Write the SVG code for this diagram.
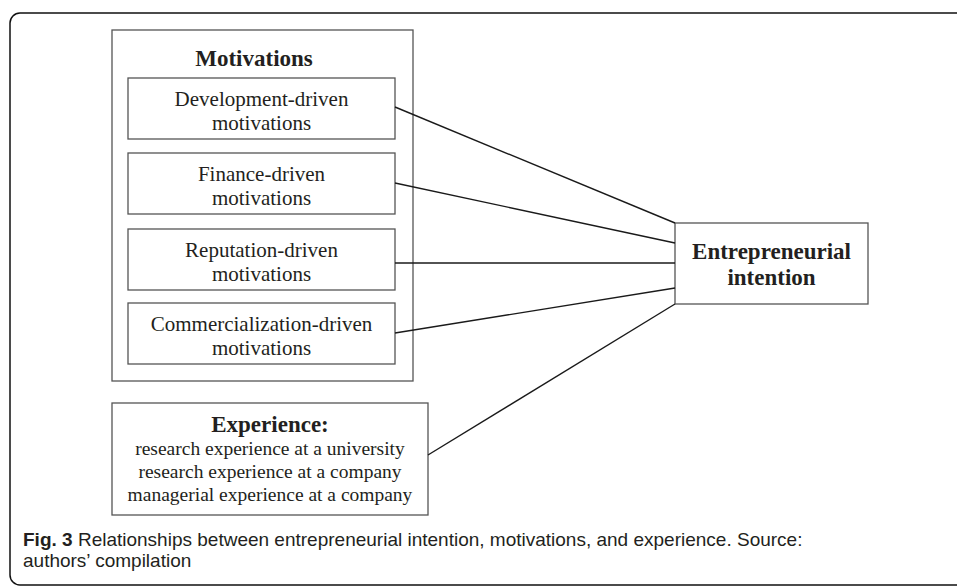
<svg xmlns="http://www.w3.org/2000/svg" width="957" height="586" viewBox="0 0 957 586">
<style>
.box{fill:#fff;stroke:#555;stroke-width:1.3}
.t{font-family:"Liberation Serif","Times New Roman",serif;fill:#231f20;text-anchor:middle}
.sub{font-size:21px}
.b{font-weight:bold;font-size:23px}
.exp{font-size:19.5px}
.cap{font-family:"Liberation Sans",Arial,sans-serif;font-size:19px;fill:#231f20}
.conn line{stroke:#1a1a1a;stroke-width:1.4}
</style>
<rect width="957" height="586" fill="#fff"/>
<rect x="10" y="13" width="1000" height="572" rx="10" fill="none" stroke="#111" stroke-width="1.5"/>
<g id="motivations">
<rect class="box" x="112" y="30" width="301" height="351"/>
<text class="t b" x="254" y="66">Motivations</text>
</g>
<g id="development">
<rect class="box" x="128" y="78" width="267" height="61"/>
<text class="t sub" x="261.5" y="106">Development-driven</text>
<text class="t sub" x="261.5" y="130">motivations</text>
</g>
<g id="finance">
<rect class="box" x="128" y="153" width="267" height="61"/>
<text class="t sub" x="261.5" y="181">Finance-driven</text>
<text class="t sub" x="261.5" y="205">motivations</text>
</g>
<g id="reputation">
<rect class="box" x="128" y="229" width="267" height="61"/>
<text class="t sub" x="261.5" y="257">Reputation-driven</text>
<text class="t sub" x="261.5" y="281">motivations</text>
</g>
<g id="commercialization">
<rect class="box" x="128" y="303" width="267" height="61"/>
<text class="t sub" x="261.5" y="331">Commercialization-driven</text>
<text class="t sub" x="261.5" y="355">motivations</text>
</g>
<g id="experience">
<rect class="box" x="112" y="403" width="316" height="112"/>
<text class="t b" x="270" y="432">Experience:</text>
<text class="t exp" x="270" y="455">research experience at a university</text>
<text class="t exp" x="270" y="478">research experience at a company</text>
<text class="t exp" x="270" y="501">managerial experience at a company</text>
</g>
<g id="intention">
<rect class="box" x="675" y="223" width="193" height="81"/>
<text class="t b" x="771.5" y="259">Entrepreneurial</text>
<text class="t b" x="771.5" y="285">intention</text>
</g>
<g class="conn" id="connectors">
<line x1="395" y1="107" x2="675" y2="223"/>
<line x1="395" y1="183" x2="675" y2="243"/>
<line x1="395" y1="263" x2="675" y2="263"/>
<line x1="395" y1="333" x2="675" y2="288"/>
<line x1="428" y1="455" x2="675" y2="304"/>
</g>
<g id="caption">
<text class="cap" x="23" y="546"><tspan font-weight="bold">Fig. 3</tspan> Relationships between entrepreneurial intention, motivations, and experience. Source:</text>
<text class="cap" x="23" y="567">authors’ compilation</text>
</g>
</svg>
